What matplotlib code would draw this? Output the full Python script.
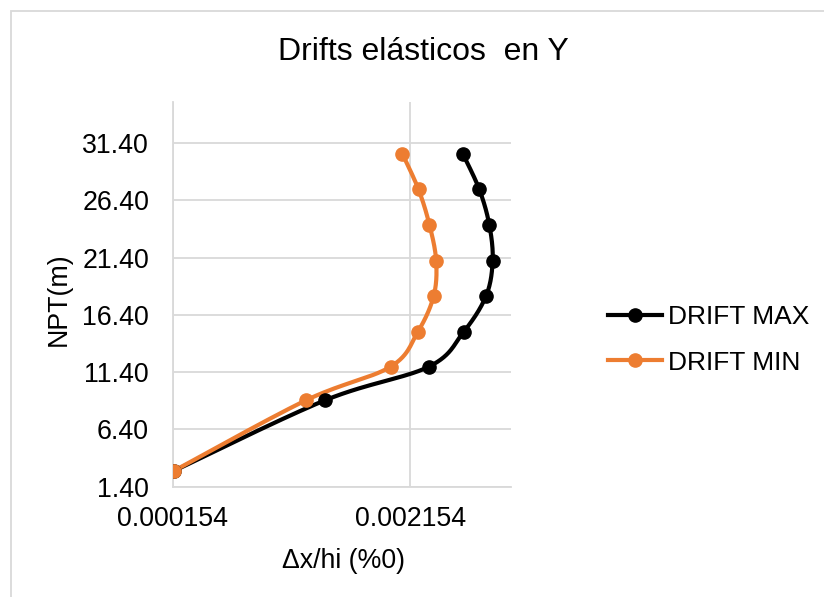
import numpy as np
import matplotlib
matplotlib.use("Agg")
import matplotlib.pyplot as plt
from matplotlib.lines import Line2D
from matplotlib.patches import Rectangle

plt.rcParams['font.family'] = ['Liberation Sans', 'DejaVu Sans']

# Story heights (m) and elastic drift ratios in Y
heights = [2.77, 8.93, 11.87, 14.92, 18.06, 21.14, 24.25, 27.34, 30.47]
drift_max = [0.000162, 0.001434, 0.002310, 0.002604, 0.002793, 0.002848, 0.002820, 0.002736, 0.002596]
drift_min = [0.000162, 0.001274, 0.001988, 0.002218, 0.002352, 0.002372, 0.002316, 0.002224, 0.002087]
series_names = ["DRIFT MAX", "DRIFT MIN"]
series_colors = ["#000000", "#ED7D31"]

x_ticks = [0.000154, 0.002154]
y_ticks = [1.4, 6.4, 11.4, 16.4, 21.4, 26.4, 31.4]


def smooth(xs, ys, n=30):
    """Catmull-Rom style Bezier smoothing through all points."""
    p = np.column_stack([xs, ys]).astype(float)
    ext = np.vstack([p[0], p, p[-1]])
    out = [p[0]]
    t = np.linspace(0, 1, n)[1:, None]
    for i in range(1, len(ext) - 2):
        p0, p1, p2, p3 = ext[i - 1], ext[i], ext[i + 1], ext[i + 2]
        b1 = p1 + (p2 - p0) / 6.0
        b2 = p2 - (p3 - p1) / 6.0
        seg = ((1 - t) ** 3) * p1 + 3 * ((1 - t) ** 2) * t * b1 + 3 * (1 - t) * t ** 2 * b2 + t ** 3 * p2
        out.extend(seg)
    out = np.array(out)
    return out[:, 0], out[:, 1]


W, H = 824, 597
fig = plt.figure(figsize=(W / 100, H / 100), dpi=100)

# chart frame
fig.patches.append(Rectangle((11 / W, -0.1), 1.2, 1 - 11 / H + 0.1, transform=fig.transFigure,
                             fill=False, edgecolor="#D9D9D9", linewidth=1.3))

ax = fig.add_axes([172.7 / W, 1 - 486.7 / H, (510.7 - 172.7) / W, (486.7 - 101.7) / H])
ax.set_xlim(0.000154, 0.003)
ax.set_ylim(1.4, 35.0)

grid_c = "#D9D9D9"
ax.set_xticks(x_ticks)
ax.set_yticks(y_ticks)
ax.set_xticklabels([f"{v:.6f}" for v in x_ticks])
ax.set_yticklabels([f"{v:.2f}" for v in y_ticks])
ax.grid(True, color=grid_c, linewidth=1.3)
ax.set_axisbelow(True)
for s in ["top", "right"]:
    ax.spines[s].set_visible(False)
for s in ["left", "bottom"]:
    ax.spines[s].set_color(grid_c)
    ax.spines[s].set_linewidth(1.3)
ax.tick_params(axis="both", length=0, labelsize=19.3, colors="#000000")
ax.tick_params(axis="y", pad=17)
ax.tick_params(axis="x", pad=14)

for vals, col in zip([drift_max, drift_min], series_colors):
    sx, sy = smooth(vals, heights)
    ax.plot(sx, sy, color=col, linewidth=3, solid_capstyle="round", zorder=3)
    ax.plot(vals, heights, linestyle="none", marker="o", markersize=9.5,
            color=col, zorder=4)

fig.text(423 / W, 1 - 52 / H, "Drifts elásticos  en Y", ha="center", va="center", fontsize=23)
fig.text(343 / W, 1 - 561 / H, "\u0394x/hi (%0)", ha="center", va="center", fontsize=19.3)
fig.text(59 / W, 1 - 299 / H, "NPT(m)", ha="center", va="center", rotation=90, fontsize=19.3)

handles = [Line2D([], [], color=c, linewidth=3, marker="o", markersize=9.5) for c in series_colors]
leg = fig.legend(handles, series_names, loc="center left", bbox_to_anchor=(584 / W, 1 - 340 / H),
                 frameon=False, fontsize=19, handlelength=2.05, handletextpad=0.22, labelspacing=0.8)

fig.savefig("out.png", dpi=100)
